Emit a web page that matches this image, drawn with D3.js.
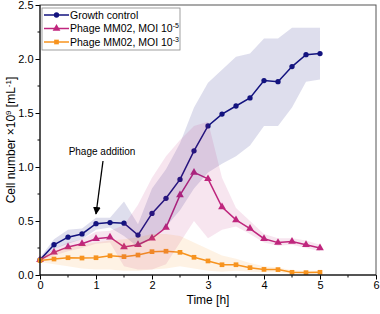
<!DOCTYPE html>
<html>
<head>
<meta charset="utf-8">
<script src="https://cdn.jsdelivr.net/npm/d3@7"></script>
<style>
  body { margin: 0; background: #fff; }
  text { font-family: "Liberation Sans", Arial, sans-serif; }
</style>
</head>
<body>
<div id="chart"></div>
<script>
var width = 380;
var height = 314;

// data (time in h, cells x10^9 per mL)
var times = [0, 0.25, 0.5, 0.75, 1, 1.25, 1.5, 1.75, 2, 2.25, 2.5, 2.75, 3, 3.25, 3.5, 3.75, 4, 4.25, 4.5, 4.75, 5];

var growth = [0.14, 0.28, 0.35, 0.38, 0.475, 0.485, 0.48, 0.37, 0.57, 0.71, 0.885, 1.15, 1.38, 1.49, 1.565, 1.64, 1.80, 1.79, 1.93, 2.04, 2.05];
var growthLo = [0.12, 0.24, 0.29, 0.33, 0.42, 0.44, 0.36, 0.26, 0.35, 0.45, 0.6, 0.8, 0.95, 1.03, 1.1, 1.2, 1.38, 1.38, 1.55, 1.79, 1.81];
var growthHi = [0.16, 0.33, 0.42, 0.43, 0.53, 0.53, 0.68, 0.47, 0.8, 0.98, 1.22, 1.55, 1.78, 1.9, 2.02, 2.05, 2.19, 2.19, 2.29, 2.29, 2.29];

var moi5 = [0.14, 0.21, 0.26, 0.29, 0.336, 0.35, 0.26, 0.28, 0.34, 0.44, 0.74, 0.95, 0.89, 0.63, 0.51, 0.43, 0.336, 0.30, 0.31, 0.28, 0.25];
var moi5Lo = [0.13, 0.18, 0.22, 0.25, 0.29, 0.30, 0.08, 0.05, 0.05, 0.1, 0.3, 0.5, 0.34, 0.42, 0.45, 0.38, 0.3, 0.27, 0.28, 0.25, 0.22];
var moi5Hi = [0.15, 0.24, 0.30, 0.33, 0.40, 0.41, 0.46, 0.65, 0.9, 1.1, 1.25, 1.38, 1.42, 0.9, 0.62, 0.5, 0.38, 0.34, 0.34, 0.32, 0.28];

var moi3 = [0.135, 0.148, 0.16, 0.157, 0.16, 0.178, 0.17, 0.185, 0.216, 0.22, 0.21, 0.164, 0.13, 0.095, 0.095, 0.068, 0.052, 0.05, 0.025, 0.022, 0.025];
var moi3Lo = [0.12, 0.1, 0.08, 0.06, 0.05, 0.05, 0.04, 0.04, 0.05, 0.06, 0.08, 0.06, 0.04, 0.03, 0.04, 0.03, 0.025, 0.025, 0.01, 0.01, 0.01];
var moi3Hi = [0.16, 0.22, 0.26, 0.28, 0.30, 0.32, 0.33, 0.35, 0.38, 0.38, 0.36, 0.30, 0.24, 0.18, 0.15, 0.11, 0.08, 0.07, 0.045, 0.04, 0.04];

var xTicks = [0, 1, 2, 3, 4, 5, 6];
var yTicks = [0, 0.5, 1.0, 1.5, 2.0, 2.5];

var series = [
  { name: "Growth control", sup: "", vals: growth, lo: growthLo, hi: growthHi, color: "#13137f", shape: d3.symbolCircle, band: 0.14 },
  { name: "Phage MM02, MOI 10", sup: "-5", vals: moi5, lo: moi5Lo, hi: moi5Hi, color: "#c0267e", shape: d3.symbolTriangle, band: 0.12 },
  { name: "Phage MM02, MOI 10", sup: "-3", vals: moi3, lo: moi3Lo, hi: moi3Hi, color: "#f7931e", shape: d3.symbolSquare, band: 0.12 }
];

var margin = { left: 40, right: 4, top: 5, bottom: 39 };

var svg = d3.select("#chart")
  .append("svg")
  .attr("width", width)
  .attr("height", height);

var x = d3.scaleLinear().domain([0, 6]).range([margin.left, width - margin.right]);
var y = d3.scaleLinear().domain([0, 2.5]).range([height - margin.bottom, margin.top]);

// lines and markers first, bands painted over them
series.forEach(function(s) {
  var pts = times.map(function(t, i) { return [t, s.vals[i]]; });
  var line = d3.line().x(function(d) { return x(d[0]); }).y(function(d) { return y(d[1]); });
  svg.append("path")
    .attr("d", line(pts))
    .attr("fill", "none")
    .attr("stroke", s.color)
    .attr("stroke-width", 1.5);
  svg.selectAll(null)
    .data(pts)
    .enter()
    .append("path")
    .attr("d", d3.symbol().type(s.shape).size(s.shape === d3.symbolTriangle ? 26 : 22))
    .attr("transform", function(d) { return "translate(" + x(d[0]) + "," + y(d[1]) + ")"; })
    .attr("fill", s.color);
});

series.forEach(function(s) {
  var area = d3.area()
    .x(function(d, i) { return x(times[i]); })
    .y0(function(d, i) { return y(s.lo[i]); })
    .y1(function(d, i) { return y(s.hi[i]); });
  svg.append("path")
    .attr("d", area(times))
    .attr("fill", s.color)
    .attr("fill-opacity", s.band);
});

// axes
var xAxis = d3.axisBottom(x).tickValues(xTicks).tickFormat(d3.format("d")).tickSize(4.5).tickPadding(2);
var yAxis = d3.axisLeft(y).tickValues(yTicks).tickFormat(d3.format(".1f")).tickSize(4.5).tickPadding(2);

var gx = svg.append("g").attr("transform", "translate(0," + y(0) + ")").call(xAxis);
var gy = svg.append("g").attr("transform", "translate(" + x(0) + ",0)").call(yAxis);
[gx, gy].forEach(function(g) {
  g.select(".domain").remove();
  g.selectAll("text").attr("font-size", 11).attr("fill", "#000").style("font-family", "'Liberation Sans', Arial, sans-serif");
  g.selectAll("line").attr("stroke", "#000");
});

// minor ticks
d3.range(0.5, 6, 1).forEach(function(v) {
  svg.append("line").attr("x1", x(v)).attr("x2", x(v)).attr("y1", y(0)).attr("y2", y(0) + 2.5).attr("stroke", "#000");
});
d3.range(0.25, 2.5, 0.5).forEach(function(v) {
  svg.append("line").attr("x1", x(0)).attr("x2", x(0) - 2.5).attr("y1", y(v)).attr("y2", y(v)).attr("stroke", "#000");
});

// frame
svg.append("rect")
  .attr("x", x(0)).attr("y", y(2.5))
  .attr("width", x(6) - x(0)).attr("height", y(0) - y(2.5))
  .attr("fill", "none").attr("stroke", "#555").attr("stroke-width", 1);
svg.append("line").attr("x1", x(0)).attr("x2", x(6)).attr("y1", y(0)).attr("y2", y(0)).attr("stroke", "#000");
svg.append("line").attr("x1", x(0)).attr("x2", x(0)).attr("y1", y(0)).attr("y2", y(2.5)).attr("stroke", "#000");

// axis titles
svg.append("text")
  .attr("x", (x(0) + x(6)) / 2).attr("y", 304)
  .attr("text-anchor", "middle").attr("font-size", 12)
  .text("Time [h]");

var yt = svg.append("text")
  .attr("transform", "translate(15," + (y(0) + y(2.5)) / 2 + ") rotate(-90)")
  .attr("text-anchor", "middle").attr("font-size", 12);
yt.append("tspan").text("Cell number \u00d710");
yt.append("tspan").attr("dy", -4).attr("font-size", 8).text("9");
yt.append("tspan").attr("dy", 4).text(" [mL");
yt.append("tspan").attr("dy", -4).attr("font-size", 8).text("-1");
yt.append("tspan").attr("dy", 4).text("]");

// annotation
svg.append("defs").append("marker")
  .attr("id", "arrow")
  .attr("viewBox", "0 0 10 10")
  .attr("refX", 9).attr("refY", 5)
  .attr("markerWidth", 6).attr("markerHeight", 6)
  .attr("orient", "auto")
  .append("path").attr("d", "M0,0 L10,5 L0,10 z").attr("fill", "#000");

svg.append("text")
  .attr("x", 102).attr("y", 155)
  .attr("text-anchor", "middle").attr("font-size", 10)
  .text("Phage addition");
svg.append("line")
  .attr("x1", 103).attr("y1", 161)
  .attr("x2", 96).attr("y2", 214)
  .attr("stroke", "#000").attr("stroke-width", 1.3)
  .attr("marker-end", "url(#arrow)");

// legend
var lg = svg.append("g").attr("transform", "translate(42,8)");
lg.append("rect").attr("width", 138).attr("height", 42).attr("fill", "#fff").attr("stroke", "#888").attr("stroke-width", 0.8);
series.forEach(function(s, i) {
  var cy = 7 + i * 13.5;
  lg.append("line").attr("x1", 2).attr("x2", 27).attr("y1", cy).attr("y2", cy).attr("stroke", s.color).attr("stroke-width", 1.5);
  lg.append("path")
    .attr("d", d3.symbol().type(s.shape).size(s.shape === d3.symbolTriangle ? 26 : 22))
    .attr("transform", "translate(14.5," + cy + ")")
    .attr("fill", s.color);
  var t = lg.append("text").attr("x", 28).attr("y", cy + 3.8).attr("font-size", 10.5);
  t.append("tspan").text(s.name);
  if (s.sup) t.append("tspan").attr("dy", -4).attr("font-size", 7).text(s.sup);
});
</script>
</body>
</html>
